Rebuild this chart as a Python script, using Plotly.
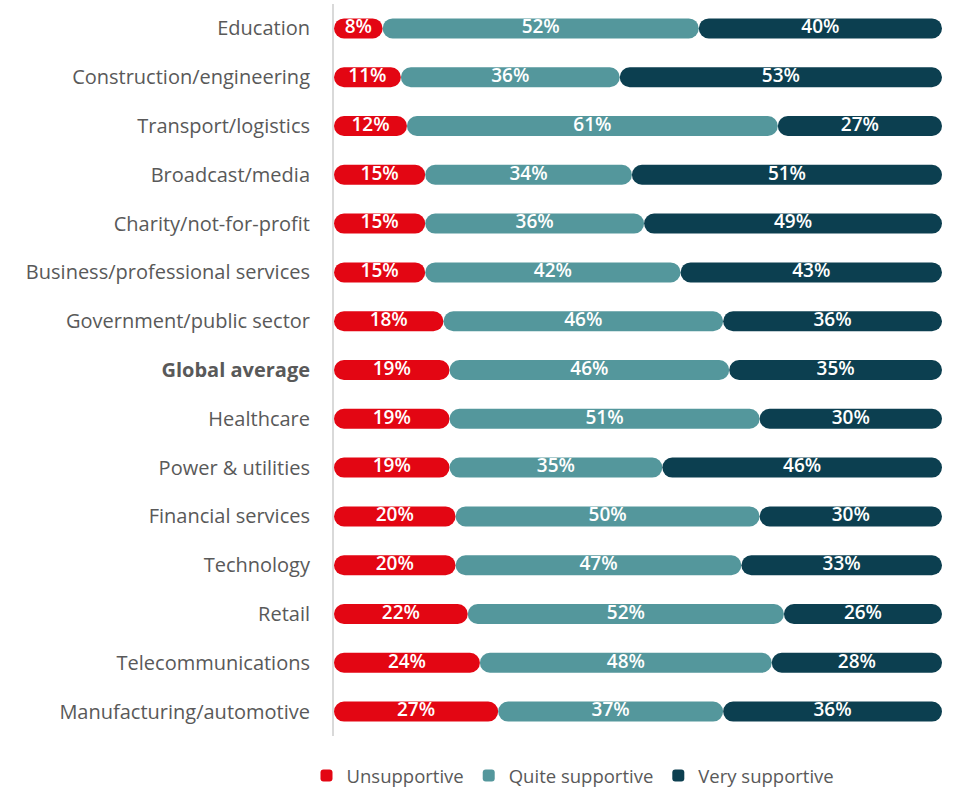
import plotly.graph_objects as go

categories = [
    "Education", "Construction/engineering", "Transport/logistics", "Broadcast/media",
    "Charity/not-for-profit", "Business/professional services", "Government/public sector",
    "Global average", "Healthcare", "Power & utilities", "Financial services",
    "Technology", "Retail", "Telecommunications", "Manufacturing/automotive",
]
unsupportive = [8, 11, 12, 15, 15, 15, 18, 19, 19, 19, 20, 20, 22, 24, 27]
quite_supportive = [52, 36, 61, 34, 36, 42, 46, 46, 51, 35, 50, 47, 52, 48, 37]
very_supportive = [40, 53, 27, 51, 49, 43, 36, 35, 30, 46, 30, 33, 26, 28, 36]

series_names = ["Unsupportive", "Quite supportive", "Very supportive"]
series_colors = ["#E30613", "#54979C", "#0C3F50"]
series_values = [unsupportive, quite_supportive, very_supportive]

FONT = "Open Sans"
TEXT_GRAY = "#595959"

fig = go.Figure()

starts = [0] * len(categories)
for name, color, vals in zip(series_names, series_colors, series_values):
    mids = [s + v / 2 for s, v in zip(starts, vals)]
    # floating bar (explicit base) -> all corners rounded -> pill shape
    fig.add_trace(go.Bar(
        y=categories, x=vals, base=starts, orientation="h",
        marker=dict(color=color, cornerradius="50%", line=dict(width=0)),
        width=0.41, name=name, legendgroup=name, showlegend=True,
        hoverinfo="skip",
    ))
    fig.add_trace(go.Scatter(
        y=categories, x=mids, mode="text", text=[f"{v}%" for v in vals],
        textposition="middle center",
        textfont=dict(family=FONT, size=19, color="white", weight=600),
        showlegend=False, hoverinfo="skip",
    ))
    starts = [s + v for s, v in zip(starts, vals)]

ticktext = [f"<b>{c}</b>" if c == "Global average" else c for c in categories]

fig.update_layout(
    width=959, height=788,
    barmode="overlay",
    plot_bgcolor="white", paper_bgcolor="white",
    margin=dict(l=334, r=17, t=4, b=52, autoexpand=False),
    font=dict(family=FONT, color=TEXT_GRAY, size=19),
    xaxis=dict(range=[0, 100], visible=False, fixedrange=True),
    yaxis=dict(
        tickmode="array", tickvals=categories, ticktext=ticktext,
        showline=True, linecolor="#D9D9D9", linewidth=2, showgrid=False, zeroline=False,
        ticks="", ticklabelstandoff=18, automargin=False, fixedrange=True,
        tickfont=dict(family=FONT, size=20, color=TEXT_GRAY),
        range=[14.5, -0.5],
    ),
    legend=dict(
        orientation="h", xref="container", yref="container",
        x=0.5975, xanchor="center", y=0.0152, yanchor="middle",
        font=dict(family=FONT, size=18.5, color=TEXT_GRAY),
        itemwidth=30, traceorder="normal",
    ),
    showlegend=True,
)

fig.write_html(
    "out.html",
    config={"displayModeBar": False},
    post_script="document.body.style.margin='0';document.body.style.overflow='hidden';",
)
